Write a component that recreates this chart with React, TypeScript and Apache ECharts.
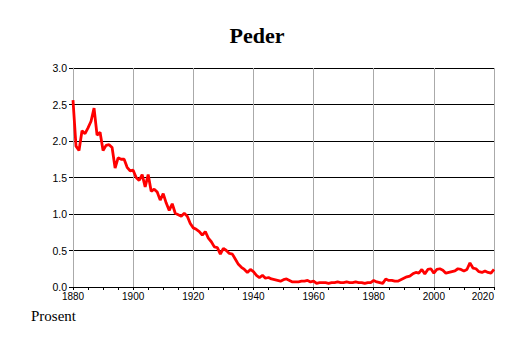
import React, { useEffect, useRef } from "react";
import * as echarts from "echarts";

const startYear = 1880;
const values: number[] = [
  // 1880-1889
  2.56, 1.93, 1.87, 2.14, 2.10, 2.18, 2.27, 2.45, 2.08, 2.12,
  // 1890-1899
  1.87, 1.94, 1.95, 1.91, 1.63, 1.77, 1.75, 1.75, 1.64, 1.59,
  // 1900-1909
  1.60, 1.50, 1.46, 1.54, 1.37, 1.54, 1.31, 1.34, 1.30, 1.19,
  // 1910-1919
  1.28, 1.15, 1.05, 1.14, 1.01, 0.99, 0.97, 1.01, 0.97, 0.87,
  // 1920-1929
  0.81, 0.79, 0.76, 0.71, 0.76, 0.67, 0.62, 0.55, 0.54, 0.45,
  // 1930-1939
  0.53, 0.50, 0.46, 0.45, 0.38, 0.31, 0.27, 0.24, 0.20, 0.24,
  // 1940-1949
  0.21, 0.16, 0.13, 0.16, 0.12, 0.13, 0.11, 0.10, 0.09, 0.08,
  // 1950-1959
  0.10, 0.11, 0.09, 0.07, 0.07, 0.07, 0.08, 0.08, 0.09, 0.07,
  // 1960-1969
  0.08, 0.05, 0.06, 0.06, 0.06, 0.05, 0.06, 0.06, 0.07, 0.06,
  // 1970-1979
  0.06, 0.07, 0.06, 0.06, 0.07, 0.06, 0.06, 0.05, 0.06, 0.06,
  // 1980-1989
  0.09, 0.07, 0.06, 0.05, 0.11, 0.09, 0.09, 0.08, 0.08, 0.10,
  // 1990-1999
  0.12, 0.14, 0.15, 0.18, 0.20, 0.19, 0.24, 0.18, 0.24, 0.25,
  // 2000-2009
  0.19, 0.24, 0.25, 0.23, 0.19, 0.20, 0.21, 0.22, 0.25, 0.24,
  // 2010-2020
  0.22, 0.24, 0.33, 0.26, 0.25, 0.21, 0.20, 0.22, 0.20, 0.19, 0.24,
];
const years: number[] = values.map((_, i) => startYear + i);

const titleText = "Peder";
const unitText = "Prosent";

export default function App() {
  const ref = useRef<HTMLDivElement>(null);
  useEffect(() => {
    if (!ref.current) return;
    const chart = echarts.init(ref.current, undefined, { renderer: "svg" });
    const data = years.map((y, i) => [y, values[i]]);
    chart.setOption({
      animation: false,
      backgroundColor: "#ffffff",
      title: {
        text: titleText,
        left: "center",
        top: 19,
        textStyle: {
          fontFamily: "Liberation Serif",
          fontWeight: "bold",
          fontSize: 22,
          color: "#000",
        },
      },
      graphic: [
        {
          type: "text",
          left: 31,
          top: 308,
          style: {
            text: unitText,
            fontFamily: "Liberation Serif",
            fontSize: 15,
            fill: "#000",
          },
        },
      ],
      grid: { left: 73, right: 20, top: 68, bottom: 56, containLabel: false },
      xAxis: {
        type: "value",
        min: 1880,
        max: 2020,
        interval: 20,
        axisLine: { show: true, lineStyle: { color: "#000", width: 1 } },
        axisTick: { show: true, length: 3, lineStyle: { color: "#000" } },
        minorTick: { show: true, splitNumber: 4, length: 3, lineStyle: { color: "#000" } },
        splitLine: { show: true, lineStyle: { color: "#aaaaaa", width: 1 } },
        axisLabel: {
          fontFamily: "Liberation Sans",
          fontSize: 10,
          color: "#000",
          margin: 4,
          alignMaxLabel: "right",
          formatter: (v: number) => String(v),
        },
      },
      yAxis: {
        type: "value",
        min: 0,
        max: 3,
        interval: 0.5,
        axisLine: { show: true, lineStyle: { color: "#aaaaaa", width: 1 } },
        axisTick: { show: true, length: 4, lineStyle: { color: "#000" } },
        splitLine: { show: true, lineStyle: { color: "#000", width: 1 } },
        axisLabel: {
          fontFamily: "Liberation Sans",
          fontSize: 10.5,
          color: "#000",
          margin: 6,
          formatter: (v: number) => v.toFixed(1),
        },
      },
      series: [
        {
          type: "line",
          data,
          showSymbol: false,
          symbol: "none",
          lineStyle: { color: "#ff0000", width: 2.8 },
          z: 5,
        },
      ],
    });
    return () => chart.dispose();
  }, []);
  return (
    <div
      ref={ref}
      style={{ position: "fixed", left: 0, top: 0, width: 514, height: 343 }}
    />
  );
}
